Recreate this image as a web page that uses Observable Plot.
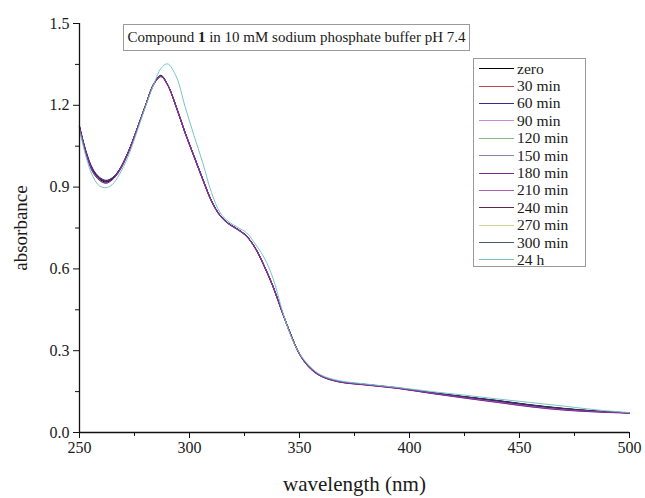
<!DOCTYPE html>
<html>
<head>
<meta charset="utf-8">
<script src="https://cdn.jsdelivr.net/npm/d3@7"></script>
<script src="https://cdn.jsdelivr.net/npm/@observablehq/plot@0.6"></script>
<style>
  html, body { margin: 0; padding: 0; background: #fff; }
  #wrap { position: relative; width: 645px; height: 498px; font-family: "Liberation Serif", serif; color: #1a1a1a; }
  #title { position: absolute; left: 123px; top: 24px; width: 345px; height: 25px; border: 1px solid #9a9a9a; background: #fff;
           font-size: 15px; line-height: 25px; text-align: center; white-space: nowrap; }
  #legend { position: absolute; left: 473px; top: 58px; width: 113px; height: 209px; border: 1px solid #9a9a9a; background: #fff;
            font-size: 15.5px; padding-top: 1px; box-sizing: border-box; }
  .row { height: 17.4px; display: flex; align-items: center; white-space: nowrap; }
  .sw { width: 35px; height: 0; border-top: 1px solid; margin-left: 5px; margin-right: 3px; }
</style>
</head>
<body>
<div id="wrap"></div>
<script>
const titleText = ["Compound ", "1", " in 10 mM sodium phosphate buffer pH 7.4"];
const xLabel = "wavelength (nm)";
const yLabel = "absorbance";
const xTicks = [250, 300, 350, 400, 450, 500];
const xMinorTicks = [275, 325, 375, 425, 475];
const yTicks = [0, 0.3, 0.6, 0.9, 1.2, 1.5];
const yMinorTicks = [0.15, 0.45, 0.75, 1.05, 1.35];

const seriesNames = ["zero", "30 min", "60 min", "90 min", "120 min", "150 min", "180 min", "210 min", "240 min", "270 min", "300 min", "24 h"];
const seriesColors = ["#000000", "#c04848", "#3a2a88", "#d088d0", "#88b888", "#8888a8", "#7a2a9a", "#b060b0", "#5a2850", "#d4d498", "#4a5a6a", "#78c4c4"];
const drawOrder = ["270 min", "120 min", "90 min", "150 min", "30 min", "300 min", "zero", "240 min", "60 min", "210 min", "180 min", "24 h"];

const wavelengths = [250,253,256,259,262,265,268,272,276,280,284,287,290,294,298,302,306,310,314,318,322,326,330,334,338,342,346,350,355,360,368,380,395,410,425,440,455,470,485,500];

const sZero  = [1.12,1.025,0.96,0.93,0.918,0.93,0.96,1.025,1.11,1.20,1.283,1.31,1.277,1.195,1.10,1.015,0.93,0.85,0.795,0.765,0.745,0.72,0.675,0.61,0.535,0.445,0.36,0.288,0.235,0.207,0.187,0.176,0.163,0.146,0.131,0.117,0.101,0.088,0.078,0.072];
const s30    = [1.12,1.03,0.965,0.935,0.922,0.933,0.962,1.025,1.108,1.198,1.28,1.305,1.275,1.192,1.098,1.013,0.928,0.849,0.794,0.764,0.744,0.719,0.674,0.609,0.534,0.444,0.358,0.287,0.234,0.206,0.186,0.175,0.162,0.144,0.128,0.113,0.097,0.085,0.077,0.072];
const s60    = [1.125,1.03,0.968,0.937,0.925,0.935,0.963,1.027,1.11,1.199,1.281,1.306,1.276,1.194,1.10,1.015,0.93,0.85,0.795,0.765,0.745,0.72,0.676,0.611,0.536,0.446,0.36,0.289,0.236,0.207,0.187,0.176,0.163,0.145,0.13,0.116,0.10,0.087,0.078,0.072];
const s90    = [1.118,1.022,0.958,0.927,0.916,0.928,0.958,1.023,1.108,1.199,1.281,1.308,1.276,1.193,1.098,1.013,0.928,0.848,0.794,0.764,0.744,0.719,0.674,0.609,0.534,0.444,0.359,0.287,0.234,0.206,0.186,0.175,0.162,0.144,0.129,0.114,0.098,0.086,0.077,0.072];
const s120   = [1.122,1.028,0.963,0.933,0.921,0.932,0.961,1.026,1.11,1.20,1.282,1.307,1.277,1.195,1.10,1.016,0.931,0.851,0.796,0.766,0.746,0.721,0.676,0.612,0.537,0.447,0.361,0.289,0.236,0.208,0.188,0.177,0.164,0.147,0.132,0.118,0.102,0.089,0.079,0.072];
const s150   = [1.12,1.027,0.962,0.932,0.92,0.931,0.96,1.024,1.109,1.199,1.281,1.306,1.276,1.193,1.099,1.014,0.929,0.849,0.795,0.765,0.745,0.72,0.675,0.61,0.535,0.445,0.36,0.288,0.235,0.207,0.187,0.176,0.163,0.146,0.131,0.116,0.10,0.087,0.078,0.072];
const s180   = [1.115,1.02,0.955,0.925,0.914,0.927,0.957,1.022,1.107,1.198,1.28,1.305,1.275,1.192,1.097,1.012,0.927,0.847,0.793,0.763,0.743,0.718,0.673,0.608,0.533,0.443,0.358,0.286,0.233,0.205,0.185,0.174,0.161,0.143,0.126,0.11,0.094,0.082,0.075,0.071];
const s210   = [1.117,1.022,0.957,0.927,0.915,0.928,0.958,1.023,1.108,1.198,1.28,1.306,1.276,1.193,1.098,1.013,0.928,0.848,0.794,0.764,0.744,0.719,0.674,0.609,0.534,0.444,0.359,0.287,0.234,0.206,0.186,0.175,0.162,0.144,0.127,0.111,0.095,0.083,0.076,0.071];
const s240   = [1.123,1.029,0.965,0.934,0.923,0.934,0.962,1.026,1.11,1.20,1.282,1.308,1.277,1.194,1.10,1.015,0.93,0.85,0.795,0.765,0.745,0.72,0.675,0.61,0.535,0.445,0.36,0.288,0.235,0.207,0.187,0.176,0.163,0.146,0.131,0.117,0.101,0.088,0.078,0.072];
const s270   = [1.121,1.026,0.961,0.931,0.919,0.93,0.96,1.025,1.109,1.20,1.282,1.307,1.276,1.194,1.099,1.014,0.929,0.849,0.795,0.765,0.745,0.72,0.675,0.61,0.535,0.445,0.36,0.288,0.235,0.207,0.187,0.176,0.163,0.146,0.131,0.117,0.102,0.089,0.079,0.072];
const s300   = [1.12,1.026,0.962,0.932,0.92,0.931,0.96,1.025,1.109,1.199,1.281,1.306,1.276,1.193,1.099,1.014,0.929,0.849,0.795,0.765,0.745,0.72,0.675,0.61,0.535,0.445,0.36,0.288,0.235,0.207,0.187,0.176,0.163,0.146,0.131,0.116,0.10,0.088,0.078,0.072];
const s24h   = [1.11,1.01,0.94,0.905,0.898,0.91,0.945,1.01,1.10,1.195,1.282,1.335,1.352,1.305,1.195,1.09,0.99,0.88,0.805,0.772,0.752,0.732,0.69,0.64,0.565,0.452,0.355,0.29,0.24,0.21,0.19,0.178,0.165,0.15,0.137,0.123,0.11,0.097,0.083,0.073];

const seriesValues = [sZero, s30, s60, s90, s120, s150, s180, s210, s240, s270, s300, s24h];

const rows = [];
drawOrder.forEach(name => {
  const i = seriesNames.indexOf(name);
  wavelengths.forEach((wl, j) => rows.push({series: name, wl, a: seriesValues[i][j]}));
});

const font = "Liberation Serif, serif";
const chart = Plot.plot({
  width: 645,
  height: 498,
  marginLeft: 79,
  marginRight: 16,
  marginTop: 23,
  marginBottom: 66,
  style: {fontFamily: font, fontSize: "16px", color: "#1a1a1a", background: "#fff"},
  x: {domain: [250, 500]},
  y: {domain: [0, 1.5]},
  color: {domain: seriesNames, range: seriesColors},
  marks: [
    Plot.line(rows, {x: "wl", y: "a", z: "series", stroke: "series", strokeWidth: 1, curve: "catmull-rom"}),
    Plot.ruleX([250], {stroke: "#111", strokeWidth: 1.3}),
    Plot.ruleY([0], {stroke: "#111", strokeWidth: 1.3}),
    Plot.axisX({ticks: xTicks, tickSize: 6, tickPadding: 3, tickFormat: d => String(d), fontSize: 16,
                label: xLabel, labelAnchor: "center", labelArrow: "none", labelOffset: 58, stroke: "#111"}),
    Plot.axisX({ticks: xMinorTicks, tickSize: 4, tickFormat: () => "", label: null, stroke: "#111"}),
    Plot.axisY({ticks: yTicks, tickSize: 6, tickPadding: 4, tickFormat: d => d.toFixed(1), fontSize: 16,
                label: yLabel, labelAnchor: "center", labelArrow: "none", labelOffset: 66, stroke: "#111"}),
    Plot.axisY({ticks: yMinorTicks, tickSize: 4, tickFormat: () => "", label: null, stroke: "#111"})
  ]
});
chart.querySelectorAll("g[aria-label='x-axis label'] text").forEach(t => t.style.fontSize = "21px");
chart.querySelectorAll("g[aria-label='y-axis label'] text").forEach(t => t.style.fontSize = "19px");

const wrap = document.getElementById("wrap");
wrap.appendChild(chart);

const title = document.createElement("div");
title.id = "title";
titleText.forEach((t, i) => {
  const s = document.createElement("span");
  s.textContent = t;
  if (i === 1) s.style.fontWeight = "bold";
  title.appendChild(s);
});
wrap.appendChild(title);

const legend = document.createElement("div");
legend.id = "legend";
seriesNames.forEach((name, i) => {
  const r = document.createElement("div");
  r.className = "row";
  const sw = document.createElement("span");
  sw.className = "sw";
  sw.style.borderTopColor = seriesColors[i];
  const lab = document.createElement("span");
  lab.textContent = name;
  r.appendChild(sw); r.appendChild(lab);
  legend.appendChild(r);
});
wrap.appendChild(legend);
</script>
</body>
</html>
